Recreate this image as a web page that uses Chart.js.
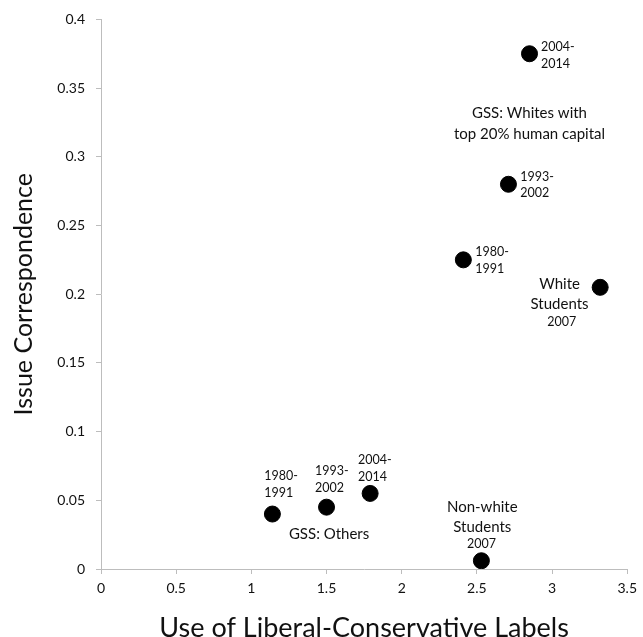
<!DOCTYPE html>
<html lang="en">
<head>
  <meta charset="utf-8">
  <title>Issue Correspondence</title>
  <script src="https://cdn.jsdelivr.net/npm/chart.js@4.4.1/dist/chart.umd.min.js"></script>
  <style>
    body { margin: 0; background: #fff; }
    #wrap { width: 643px; height: 637px; }
  </style>
</head>
<body>
  <div id="wrap"><canvas id="scatter" width="643" height="637"></canvas></div>

<script>
  // data
  var pointX = [2.85, 2.71, 2.41, 3.32, 1.14, 1.50, 1.79, 2.53];
  var pointY = [0.375, 0.28, 0.225, 0.205, 0.04, 0.045, 0.055, 0.006];

  var xTickValues = [0, 0.5, 1, 1.5, 2, 2.5, 3, 3.5];
  var xTickLabels = ['0', '0.5', '1', '1.5', '2', '2.5', '3', '3.5'];
  var yTickValues = [0, 0.05, 0.1, 0.15, 0.2, 0.25, 0.3, 0.35, 0.4];
  var yTickLabels = ['0', '0.05', '0.1', '0.15', '0.2', '0.25', '0.3', '0.35', '0.4'];

  var xTitle = 'Use of Liberal-Conservative Labels';
  var yTitle = 'Issue Correspondence';

  // annotation texts
  var noteTexts = [
    ['2004-', '2014'],
    ['1993-', '2002'],
    ['1980-', '1991'],
    ['GSS: Whites with', 'top 20% human capital'],
    ['White', 'Students'],
    ['2007'],
    ['1980-', '1991'],
    ['1993-', '2002'],
    ['2004-', '2014'],
    ['GSS: Others'],
    ['Non-white', 'Students'],
    ['2007']
  ];
  // where each note sits (data units of its first line) and how it is set
  var noteLayout = [
    { x: 2.927, y: 0.380, align: 'left',   size: 12.5, gap: 17 },
    { x: 2.788, y: 0.285, align: 'left',   size: 12.5, gap: 16 },
    { x: 2.490, y: 0.231, align: 'left',   size: 12.5, gap: 17 },
    { x: 2.850, y: 0.332, align: 'center', size: 15, gap: 21 },
    { x: 3.050, y: 0.207, align: 'center', size: 15, gap: 20 },
    { x: 3.065, y: 0.1800, align: 'center', size: 12.5, gap: 0 },
    { x: 1.086, y: 0.0675, align: 'left',  size: 12.5, gap: 17 },
    { x: 1.424, y: 0.0710, align: 'left',  size: 12.5, gap: 17 },
    { x: 1.709, y: 0.0790, align: 'left',  size: 12.5, gap: 17 },
    { x: 1.517, y: 0.0254, align: 'center', size: 15, gap: 0 },
    { x: 2.536, y: 0.0449, align: 'center', size: 15, gap: 20 },
    { x: 2.530, y: 0.0181, align: 'center', size: 12.5, gap: 0 }
  ];

  var FONT = "Lato, 'Open Sans', sans-serif";
  var AXIS_GREY = '#bdbdbd';

  var points = [];
  for (var i = 0; i < pointX.length; i++) {
    points.push({ x: pointX[i], y: pointY[i] });
  }

  var notesPlugin = {
    id: 'notes',
    afterDatasetsDraw: function(chart) {
      var ctx = chart.ctx;
      var xs = chart.scales.x, ys = chart.scales.y;
      ctx.save();
      ctx.fillStyle = '#111';
      ctx.textBaseline = 'middle';
      for (var n = 0; n < noteTexts.length; n++) {
        var lay = noteLayout[n];
        var px = xs.getPixelForValue(lay.x);
        var py = ys.getPixelForValue(lay.y);
        ctx.font = lay.size + 'px ' + FONT;
        ctx.textAlign = lay.align;
        for (var k = 0; k < noteTexts[n].length; k++) {
          ctx.fillText(noteTexts[n][k], px, py + k * lay.gap);
        }
      }
      ctx.restore();
    }
  };

  var ctx = document.getElementById('scatter');
  var scatterChart = new Chart(ctx, {
    type: 'scatter',
    data: {
      datasets: [{
        data: points,
        backgroundColor: '#000',
        borderColor: '#000',
        pointRadius: 8,
        pointHoverRadius: 8
      }]
    },
    options: {
      responsive: false,
      devicePixelRatio: 1,
      animation: false,
      layout: { padding: { top: 17, right: 11, left: 0, bottom: 0 } },
      plugins: {
        legend: { display: false },
        tooltip: { enabled: false }
      },
      scales: {
        x: {
          type: 'linear',
          min: 0,
          max: 3.5,
          afterBuildTicks: function(scale) {
            scale.ticks = xTickValues.map(function(v) { return { value: v }; });
          },
          afterFit: function(scale) { scale.height = 68; },
          ticks: {
            color: '#111',
            padding: 6,
            maxRotation: 0,
            font: { family: FONT, size: 14 },
            callback: function(v) { return xTickLabels[xTickValues.indexOf(v)]; }
          },
          grid: { drawOnChartArea: false, drawTicks: true, tickLength: 5, color: AXIS_GREY },
          border: { color: AXIS_GREY, width: 1 },
          title: {
            display: true,
            text: xTitle,
            color: '#111',
            font: { family: FONT, size: 27 },
            padding: { top: 0, bottom: -7 }
          }
        },
        y: {
          type: 'linear',
          min: 0,
          max: 0.4,
          afterBuildTicks: function(scale) {
            scale.ticks = yTickValues.map(function(v) { return { value: v }; });
          },
          afterFit: function(scale) { scale.width = 101; },
          ticks: {
            color: '#111',
            padding: 11,
            font: { family: FONT, size: 14 },
            callback: function(v) {
              var idx = -1;
              for (var j = 0; j < yTickValues.length; j++) {
                if (Math.abs(yTickValues[j] - v) < 1e-9) idx = j;
              }
              return yTickLabels[idx];
            }
          },
          grid: { drawOnChartArea: false, drawTicks: true, tickLength: 5, color: AXIS_GREY },
          border: { color: AXIS_GREY, width: 1 },
          title: {
            display: true,
            text: yTitle,
            color: '#111',
            font: { family: FONT, size: 25 },
            padding: { top: 9, bottom: 0 }
          }
        }
      }
    },
    plugins: [notesPlugin]
  });
</script>
</body>
</html>
